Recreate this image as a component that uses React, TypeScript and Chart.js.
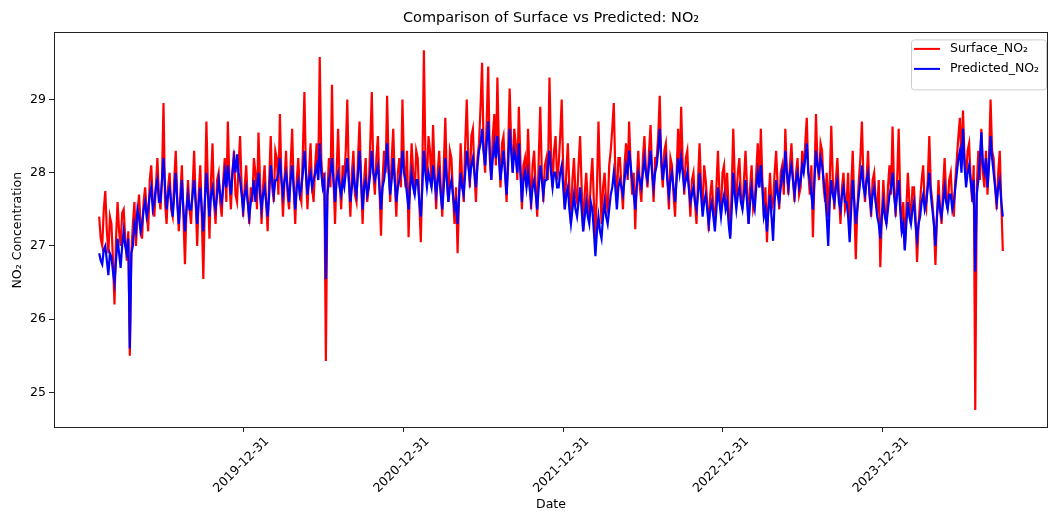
import React, { useEffect, useRef } from "react";
import { Chart, registerables } from "chart.js";
Chart.register(...registerables);

const startDate = "2019-02-05";
const stepDays = 3.5;

const surface = [
  27.4, 27.1, 27.0, 27.5, 27.75, 27.2, 26.9, 27.4, 27.3, 26.8, 26.2, 27.1, 27.6, 27.2, 27.0, 27.45, 27.5, 27.1, 26.8, 27.2,
  25.5, 26.9, 27.3, 27.6, 27.0, 27.4, 27.7, 27.3, 27.1, 27.6, 27.8, 27.5, 27.2, 27.9, 28.1, 27.6, 27.4, 27.8, 28.2, 27.7,
  27.5, 27.9, 28.95, 27.6, 27.3, 27.8, 28.0, 27.5, 27.4, 27.9, 28.3, 27.6, 27.2, 27.7, 28.1, 27.4, 26.75, 27.5, 27.9, 27.5,
  27.3, 27.8, 28.3, 27.6, 27.0, 27.7, 28.1, 27.4, 26.55, 27.6, 28.7, 27.8, 27.1, 27.9, 28.4, 27.6, 27.3, 27.9, 28.0, 27.6,
  27.4, 27.9, 28.2, 27.6, 28.7, 27.9, 27.5, 28.0, 28.3, 27.7, 27.6, 28.1, 28.5, 27.8, 27.4, 27.8, 28.1, 27.6, 27.3, 27.8,
  27.6, 28.2, 28.0, 27.5, 28.55, 27.9, 27.3, 27.8, 28.1, 27.6, 27.2, 27.9, 28.5, 27.8, 27.6, 28.3, 28.2, 27.7, 28.8, 27.9,
  27.4, 27.9, 28.3, 27.7, 27.5, 28.1, 28.6, 27.8, 27.3, 27.9, 28.2, 27.7, 27.6, 28.3, 29.1, 28.0, 27.5, 28.0, 28.4, 27.8,
  27.6, 28.1, 28.4, 27.9, 29.58, 28.2, 27.8, 28.0, 25.43, 27.7, 28.2, 27.8, 29.2, 27.9, 27.3, 28.0, 28.6, 27.9, 27.5, 28.1,
  27.9, 28.3, 29.0, 27.9, 27.4, 28.0, 28.3, 27.7, 27.6, 28.2, 28.7, 27.9, 27.3, 27.9, 28.2, 27.6, 27.8, 28.4, 29.1, 28.0,
  27.7, 28.2, 28.5, 27.8, 27.14, 27.9, 28.3, 28.0, 29.05, 28.1, 27.6, 28.2, 28.6, 27.9, 27.4, 28.0, 28.2, 27.8, 29.0, 28.1,
  27.8, 28.3, 27.12, 27.9, 28.4, 28.0, 27.7, 28.3, 28.2, 27.6, 27.05, 28.0, 29.67, 28.2, 27.9, 28.5, 28.3, 27.8, 28.65, 28.0,
  27.5, 28.0, 28.3, 27.8, 27.4, 28.1, 28.75, 27.9, 27.6, 28.3, 28.2, 27.7, 27.3, 27.8, 26.9, 27.7, 28.4, 27.9, 27.6, 28.4,
  29.0, 28.2, 27.8, 28.5, 28.6, 28.0, 27.6, 28.2, 28.4, 28.9, 29.5, 28.3, 28.0, 28.7, 29.45, 28.2, 27.9, 28.5, 28.8, 28.1,
  29.3, 28.3, 27.8, 28.4, 28.5, 28.0, 27.6, 28.3, 29.15, 28.4, 28.0, 28.6, 28.4, 27.9, 28.9, 28.2, 27.5, 28.1, 28.2, 27.8,
  28.6, 28.0, 27.5, 28.1, 28.3, 27.8, 27.4, 28.2, 28.9, 28.0, 27.6, 28.1, 28.2, 27.9, 29.3, 28.3, 27.8, 28.3, 28.5, 27.9,
  28.1, 28.5, 29.0, 28.0, 27.5, 28.0, 28.4, 27.8, 27.3, 27.9, 28.2, 27.7, 27.6, 28.1, 28.5, 27.8, 27.2, 27.7, 28.0, 27.6,
  27.4, 27.9, 28.2, 27.6, 27.1, 27.8, 28.7, 27.9, 27.3, 27.8, 28.0, 27.6, 27.5, 28.1, 28.3, 28.6, 28.95, 28.0, 27.6, 28.2,
  28.2, 27.8, 27.5, 28.1, 28.4, 27.9, 28.7, 28.1, 27.7, 28.0, 27.23, 27.9, 28.3, 27.8, 27.6, 28.2, 28.5, 28.0, 27.8, 28.3,
  28.65, 28.0, 27.6, 28.2, 28.2, 28.5, 29.05, 28.1, 27.8, 28.3, 28.4, 27.9, 27.5, 28.2, 28.1, 27.7, 27.4, 28.0, 28.6, 28.0,
  28.9, 28.1, 27.7, 28.2, 28.3, 27.8, 27.4, 27.9, 28.0, 27.6, 27.3, 27.9, 28.4, 27.8, 27.5, 28.1, 27.9, 27.6, 27.2, 27.7,
  27.9, 27.5, 27.3, 27.8, 28.3, 27.7, 27.5, 28.0, 28.1, 27.6, 28.0, 27.5, 27.14, 27.8, 28.6, 27.9, 27.6, 28.0, 28.2, 27.7,
  27.5, 27.9, 28.3, 27.8, 27.3, 27.8, 28.1, 27.5, 27.6, 28.0, 28.4, 27.8, 28.6, 27.9, 27.4, 27.8, 27.05, 27.6, 28.0, 27.5,
  27.6, 28.0, 28.3, 27.8, 27.5, 28.0, 28.1, 27.7, 28.6, 28.0, 27.7, 28.1, 28.4, 27.9, 27.6, 28.0, 28.2, 27.7, 27.8, 28.3,
  28.0, 28.4, 28.75, 28.0, 27.7, 28.1, 27.12, 27.9, 28.8, 28.1, 27.9, 28.4, 28.3, 27.8, 27.6, 28.0, 27.4, 27.9, 28.64, 27.9,
  27.5, 27.9, 28.2, 27.7, 27.3, 27.8, 28.0, 27.5, 27.6, 28.0, 27.2, 27.8, 28.3, 27.6, 26.82, 27.5, 27.9, 28.2, 28.7, 27.9,
  27.6, 27.9, 28.3, 27.7, 27.4, 27.9, 28.0, 27.6, 27.5, 27.9, 26.71, 27.4, 27.9, 27.5, 27.3, 27.8, 28.1, 27.7, 28.63, 27.8,
  27.4, 27.9, 28.6, 27.7, 27.2, 27.6, 26.95, 27.5, 28.0, 27.6, 27.3, 27.8, 27.8, 27.4, 26.78, 27.3, 27.6, 27.9, 28.1, 27.6,
  27.5, 27.9, 28.5, 27.8, 27.6, 27.3, 26.74, 27.4, 27.9, 27.5, 27.3, 27.8, 28.2, 27.7, 27.5, 27.9, 28.0, 27.6, 27.4, 27.9,
  28.2, 28.5, 28.75, 28.1, 28.85, 28.2, 27.9, 28.3, 28.4, 27.9, 27.6, 28.1, 24.76, 27.8, 28.3, 27.9, 28.6, 28.0, 27.8, 28.3,
  27.7, 28.2, 29.0, 28.3, 28.2, 27.8, 27.5, 28.0, 28.3, 27.6, 26.93,
];

const predicted = [
  26.9, 26.8, 26.75, 26.95, 27.0, 26.8, 26.6, 26.9, 26.85, 26.65, 26.5, 26.8, 27.1, 26.9, 26.7, 27.0, 27.2, 27.0, 26.9, 27.1,
  25.6, 26.9, 27.0, 27.3, 27.2, 27.5, 27.4, 27.2, 27.3, 27.5, 27.6, 27.4, 27.5, 27.7, 27.8, 27.5, 27.6, 27.8, 27.9, 27.6,
  27.6, 27.9, 28.2, 27.8, 27.5, 27.7, 27.8, 27.6, 27.4, 27.7, 28.0, 27.6, 27.3, 27.6, 27.9, 27.5, 27.2, 27.5, 27.7, 27.5,
  27.5, 27.7, 27.9, 27.6, 27.3, 27.6, 27.8, 27.5, 27.2, 27.6, 28.0, 27.7, 27.4, 27.7, 27.8, 27.6, 27.5, 27.7, 27.9, 27.7,
  27.6, 27.8, 28.0, 27.8, 28.1, 27.9, 27.7, 28.0, 28.2, 28.0, 28.25, 28.0, 27.9, 27.7, 27.5, 27.7, 27.8, 27.6, 27.4, 27.6,
  27.7, 27.9, 27.6, 27.8, 28.0, 27.7, 27.5, 27.7, 27.8, 27.6, 27.4, 27.7, 28.1, 27.9, 27.7, 27.9, 27.9, 28.0, 28.2, 27.9,
  27.7, 27.9, 28.0, 27.8, 27.6, 27.9, 28.1, 27.8, 27.5, 27.8, 27.9, 27.7, 27.8, 28.0, 28.3, 28.0, 27.7, 27.9, 28.0, 27.8,
  27.9, 28.0, 28.1, 27.9, 28.4, 28.0, 27.8, 27.9, 26.55, 27.7, 27.9, 28.0, 28.2, 27.9, 27.6, 27.9, 28.0, 27.8, 27.7, 27.9,
  27.8, 28.0, 28.2, 27.9, 27.6, 27.8, 28.0, 27.8, 27.7, 28.0, 28.3, 27.9, 27.5, 27.8, 27.9, 27.7, 27.8, 28.0, 28.3, 28.0,
  27.9, 28.0, 28.1, 27.8, 27.5, 27.8, 27.9, 28.1, 28.4, 28.0, 27.7, 27.9, 28.2, 27.9, 27.6, 27.8, 27.9, 28.0, 28.3, 28.0,
  27.9, 27.7, 27.5, 27.8, 28.0, 27.8, 27.7, 27.9, 27.9, 27.6, 27.4, 27.8, 28.3, 28.0, 27.8, 28.0, 27.9, 27.8, 28.1, 27.9,
  27.7, 27.9, 28.0, 27.7, 27.5, 27.8, 28.2, 27.9, 27.6, 27.8, 27.9, 27.7, 27.5, 27.6, 27.3, 27.7, 28.0, 27.8, 27.7, 28.0,
  28.3, 28.1, 27.9, 28.1, 28.2, 28.0, 27.8, 28.1, 28.3, 28.4, 28.6, 28.3, 28.1, 28.4, 28.7, 28.3, 27.9, 28.2, 28.4, 28.2,
  28.5, 28.2, 27.9, 28.1, 28.3, 28.0, 27.7, 28.1, 28.6, 28.3, 28.0, 28.3, 28.2, 28.0, 28.4, 28.0, 27.6, 27.9, 28.0, 27.8,
  28.0, 27.8, 27.6, 27.8, 27.9, 27.7, 27.5, 27.8, 28.1, 27.9, 27.7, 27.9, 27.9, 28.1, 28.3, 28.0, 27.8, 28.0, 28.0, 27.8,
  27.8, 28.0, 28.1, 27.8, 27.5, 27.7, 27.8, 27.5, 27.3, 27.5, 27.7, 27.5, 27.4, 27.6, 27.8, 27.5, 27.2, 27.4, 27.6, 27.4,
  27.3, 27.6, 27.5, 27.2, 26.86, 27.2, 27.4, 27.2, 27.1, 27.4, 27.6, 27.4, 27.3, 27.5, 27.7, 27.8, 28.0, 27.8, 27.5, 27.8,
  27.9, 27.8, 27.7, 27.9, 28.1, 28.0, 28.3, 28.1, 27.9, 27.7, 27.5, 27.8, 28.0, 27.9, 27.8, 28.0, 28.2, 28.0, 27.9, 28.1,
  28.3, 28.0, 27.8, 28.0, 28.1, 28.3, 28.6, 28.2, 27.9, 28.1, 28.2, 27.9, 27.7, 27.9, 28.0, 27.8, 27.6, 27.9, 28.2, 28.0,
  28.2, 28.0, 27.8, 27.9, 28.0, 27.8, 27.6, 27.7, 27.8, 27.6, 27.5, 27.7, 28.0, 27.7, 27.4, 27.6, 27.7, 27.5, 27.3, 27.5,
  27.6, 27.4, 27.2, 27.5, 27.8, 27.6, 27.4, 27.6, 27.7, 27.5, 27.6, 27.3, 27.1, 27.5, 28.0, 27.7, 27.5, 27.7, 27.8, 27.6,
  27.5, 27.7, 27.9, 27.6, 27.3, 27.6, 27.8, 27.6, 27.5, 27.8, 28.0, 27.8, 28.1, 27.8, 27.4, 27.5, 27.2, 27.5, 27.7, 27.4,
  27.07, 27.6, 27.9, 27.7, 27.6, 27.8, 28.0, 27.9, 28.3, 28.0, 27.8, 28.0, 28.1, 27.9, 27.7, 27.9, 28.0, 27.8, 27.9, 28.1,
  28.0, 28.2, 28.4, 28.0, 27.9, 27.7, 27.5, 27.9, 28.3, 28.1, 28.0, 28.2, 28.1, 27.9, 27.7, 27.4, 27.0, 27.6, 27.9, 27.7,
  27.6, 27.8, 27.9, 27.6, 27.5, 27.7, 27.8, 27.6, 27.6, 27.4, 27.05, 27.5, 27.9, 27.6, 27.3, 27.5, 27.7, 27.9, 28.1, 27.8,
  27.7, 27.9, 28.0, 27.7, 27.5, 27.7, 27.8, 27.6, 27.4, 27.3, 27.1, 27.4, 27.6, 27.4, 27.3, 27.5, 27.7, 27.8, 28.0, 27.7,
  27.5, 27.7, 27.9, 27.5, 27.2, 27.3, 26.94, 27.3, 27.6, 27.4, 27.3, 27.5, 27.6, 27.3, 27.1, 27.3, 27.4, 27.6, 27.7, 27.5,
  27.6, 27.8, 28.0, 27.7, 27.5, 27.3, 27.0, 27.4, 27.7, 27.5, 27.4, 27.6, 27.8, 27.6, 27.5, 27.7, 27.7, 27.5, 27.6, 27.8,
  28.0, 28.2, 28.3, 28.0, 28.6, 28.1, 27.8, 28.0, 28.1, 27.9, 27.7, 27.9, 26.65, 27.7, 27.9, 28.2, 28.55, 28.1, 28.0, 28.2,
  27.8, 28.1, 28.5, 28.2, 28.0, 27.8, 27.6, 27.8, 27.9, 27.6, 27.4,
];

const xTickLabels = ["2019-12-31", "2020-12-31", "2021-12-31", "2022-12-31", "2023-12-31"];
const yTickValues = [25, 26, 27, 28, 29];

const titleText = "Comparison of Surface vs Predicted: NO\u2082";
const yTitle = "NO\u2082 Concentration";
const xTitle = "Date";
const legendLabels = ["Surface_NO\u2082", "Predicted_NO\u2082"];
const colors = ["#ff0000", "#0000ff"];

const DAY = 86400000;
const toDay = (s: string) => Date.parse(s + "T00:00:00Z") / DAY;

const FONT = "'DejaVu Sans', sans-serif";

export default function App() {
  const ref = useRef<HTMLCanvasElement | null>(null);
  useEffect(() => {
    document.body.style.margin = "0";
    const canvas = ref.current;
    if (!canvas) return;
    const d0 = toDay(startDate);
    const xs = surface.map((_, i) => d0 + i * stepDays);
    const xMinD = xs[0], xMaxD = xs[xs.length - 1];
    const xSpan = xMaxD - xMinD;
    const all = surface.concat(predicted);
    const yMinD = Math.min(...all), yMaxD = Math.max(...all);
    const ySpan = yMaxD - yMinD;
    const tickDays = xTickLabels.map(toDay);

    const framePlugin = {
      id: "frame",
      afterDatasetsDraw(chart: any) {
        const { ctx, chartArea: a } = chart;
        ctx.save();
        ctx.strokeStyle = "#222";
        ctx.lineWidth = 1;
        ctx.strokeRect(Math.round(a.left) + 0.5, Math.round(a.top) + 0.5, Math.round(a.right - a.left) - 1, Math.round(a.bottom - a.top) - 1);
        ctx.restore();
      },
    };

    const legendPlugin = {
      id: "mplLegend",
      afterDraw(chart: any) {
        const { ctx, chartArea: a } = chart;
        const w = 135, h = 50;
        const x = a.right - 2 - w, y = a.top + 7;
        ctx.save();
        ctx.fillStyle = "rgba(255,255,255,0.85)";
        ctx.strokeStyle = "#cccccc";
        ctx.lineWidth = 1;
        ctx.beginPath();
        (ctx as any).roundRect(x + 0.5, y + 0.5, w, h, 3);
        ctx.fill();
        ctx.stroke();
        ctx.font = `12.5px ${FONT}`;
        ctx.textBaseline = "middle";
        ctx.fillStyle = "#000";
        legendLabels.forEach((lab, i) => {
          const ly = y + 9.5 + i * 20;
          ctx.strokeStyle = colors[i];
          ctx.lineWidth = 2;
          ctx.beginPath();
          ctx.moveTo(x + 3, ly);
          ctx.lineTo(x + 29, ly);
          ctx.stroke();
          ctx.fillText(lab, x + 39, ly);
        });
        ctx.restore();
      },
    };

    const chart = new Chart(canvas, {
      type: "line",
      data: {
        datasets: [
          {
            label: legendLabels[0],
            data: surface.map((v, i) => ({ x: xs[i], y: v })),
            borderColor: colors[0],
            backgroundColor: colors[0],
            borderWidth: 2.2,
            pointRadius: 0,
            tension: 0,
            order: 2,
          },
          {
            label: legendLabels[1],
            data: predicted.map((v, i) => ({ x: xs[i], y: v })),
            borderColor: colors[1],
            backgroundColor: colors[1],
            borderWidth: 2.2,
            pointRadius: 0,
            tension: 0,
            order: 1,
          },
        ],
      },
      options: {
        animation: false,
        responsive: false,
        devicePixelRatio: 1,
        layout: { padding: { top: 0, left: 0, right: 2, bottom: 0 } },
        font: { family: FONT },
        plugins: {
          legend: { display: false },
          tooltip: { enabled: false },
          title: {
            display: true,
            text: titleText,
            fullSize: false,
            color: "#000",
            font: { family: FONT, size: 14.5, weight: "normal" },
            padding: { top: 10, bottom: 5 },
          },
        },
        scales: {
          x: {
            type: "linear",
            min: xMinD - 0.05 * xSpan,
            max: xMaxD + 0.05 * xSpan,
            afterBuildTicks: (s: any) => {
              s.ticks = tickDays.map((v) => ({ value: v }));
            },
            afterFit: (s: any) => {
              s.height = 86;
            },
            grid: { display: true, drawOnChartArea: false, drawTicks: true, tickLength: 4, color: "#222" },
            border: { display: false },
            ticks: {
              autoSkip: false,
              minRotation: 45,
              maxRotation: 45,
              labelOffset: 24,
              padding: 2,
              color: "#000",
              font: { family: FONT, size: 12.5 },
              callback: (v: any) => {
                const idx = tickDays.indexOf(v);
                return idx >= 0 ? xTickLabels[idx] : "";
              },
            },
            title: {
              display: true,
              text: xTitle,
              color: "#000",
              font: { family: FONT, size: 12.5 },
              padding: { top: 0, bottom: 2 },
            },
          },
          y: {
            type: "linear",
            min: yMinD - 0.05 * ySpan,
            max: yMaxD + 0.05 * ySpan,
            afterBuildTicks: (s: any) => {
              s.ticks = yTickValues.map((v) => ({ value: v }));
            },
            afterFit: (s: any) => {
              s.width = 54;
            },
            grid: { display: true, drawOnChartArea: false, drawTicks: true, tickLength: 5, color: "#222" },
            border: { display: false },
            ticks: {
              padding: 3,
              color: "#000",
              font: { family: FONT, size: 12.5 },
              callback: (v: any) => String(v),
            },
            title: {
              display: true,
              text: yTitle,
              color: "#000",
              font: { family: FONT, size: 12.5 },
              padding: { top: 10, bottom: 0 },
            },
          },
        },
      },
      plugins: [framePlugin, legendPlugin],
    } as any);
    return () => chart.destroy();
  }, []);
  return (
    <div style={{ width: 1050, height: 514 }}>
      <canvas ref={ref} width={1050} height={514} style={{ display: "block" }} />
    </div>
  );
}
